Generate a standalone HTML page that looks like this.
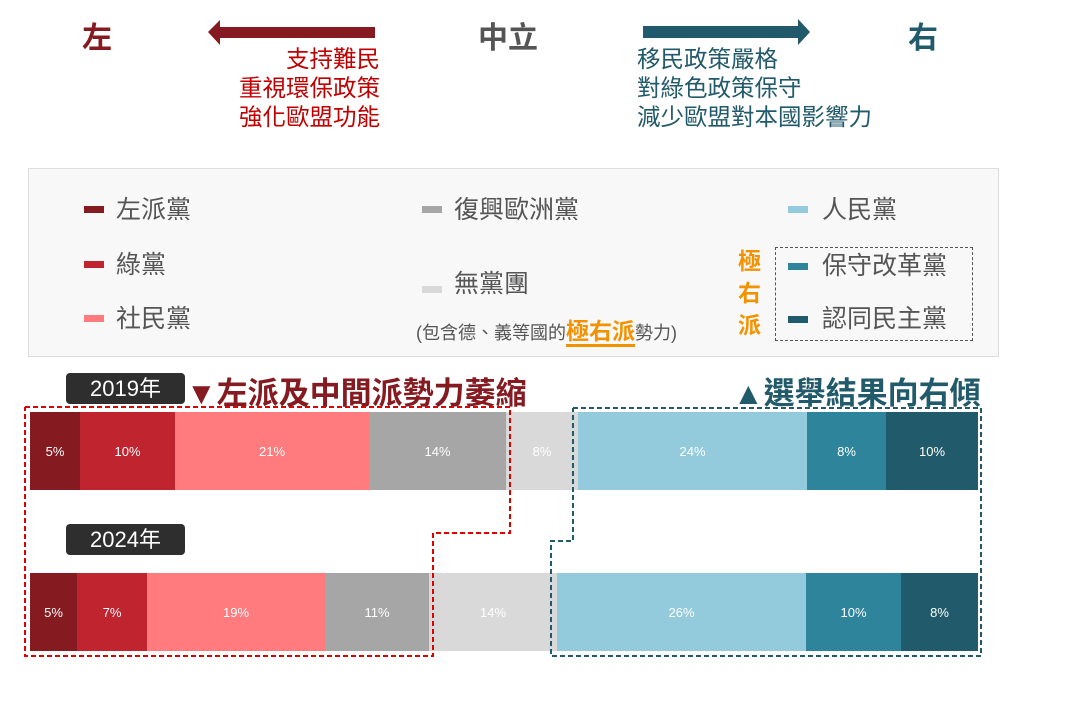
<!DOCTYPE html>
<html><head><meta charset="utf-8"><style>
body{margin:0;width:1077px;height:718px;background:#fff;position:relative;overflow:hidden;font-family:"Liberation Sans","Noto Sans CJK TC",sans-serif}
.a{position:absolute;white-space:nowrap}
.seg{position:absolute;color:#fff;font-size:13px;display:flex;align-items:center;justify-content:center}
.sq{position:absolute;width:20px;height:7px}
.lg{position:absolute;font-size:25px;color:#555;line-height:28px}
</style></head><body>
<div class="a" style="left:82px;top:13px;font-size:30px;color:#851a21;font-weight:bold">左</div>
<div class="a" style="left:478px;top:13px;font-size:30px;color:#555;font-weight:bold">中立</div>
<div class="a" style="left:908px;top:13px;font-size:30px;color:#215a6a;font-weight:bold">右</div>
<svg class="a" style="left:0;top:0" width="1077" height="60">
<polygon points="208,32 220,20 220,27 375,27 375,38 220,38 220,45" fill="#851a21"/>
<polygon points="643,26 798,26 798,19 810,32 798,45 798,38 643,38" fill="#215a6a"/>
</svg>
<div class="a" style="left:180px;top:45px;width:200px;text-align:right;font-size:23.5px;line-height:29px;color:#c00000">支持難民<br>重視環保政策<br>強化歐盟功能</div>
<div class="a" style="left:637px;top:45px;font-size:23.5px;line-height:29px;color:#215a6a">移民政策嚴格<br>對綠色政策保守<br>減少歐盟對本國影響力</div>

<div class="a" style="left:28px;top:168px;width:969px;height:187px;background:#f8f8f8;border:1px solid #ddd"></div>
<div class="sq" style="left:84px;top:206px;background:#851a21"></div><div class="lg" style="left:116px;top:196px">左派黨</div>
<div class="sq" style="left:84px;top:261px;background:#c0242f"></div><div class="lg" style="left:116px;top:251px">綠黨</div>
<div class="sq" style="left:84px;top:315px;background:#ff7b7e"></div><div class="lg" style="left:116px;top:305px">社民黨</div>
<div class="sq" style="left:422px;top:206px;background:#a6a6a6"></div><div class="lg" style="left:454px;top:196px">復興歐洲黨</div>
<div class="sq" style="left:422px;top:286px;background:#d9d9d9"></div><div class="lg" style="left:454px;top:270px">無黨團</div>
<div class="a" style="left:416px;top:312px;font-size:18px;color:#555">(包含德、義等國的<span style="color:#f39200;font-size:23px;font-weight:bold;border-bottom:3px solid #f39200">極右派</span>勢力)</div>
<div class="a" style="left:738px;top:245px;font-size:23px;line-height:32px;color:#f39200;font-weight:bold">極<br>右<br>派</div>
<div class="a" style="left:775px;top:247px;width:196px;height:92px;border:1px dashed #555"></div>
<div class="sq" style="left:788px;top:206px;background:#94cbdc"></div><div class="lg" style="left:822px;top:196px">人民黨</div>
<div class="sq" style="left:788px;top:263px;background:#2e849b"></div><div class="lg" style="left:822px;top:252px">保守改革黨</div>
<div class="sq" style="left:788px;top:316px;background:#215a6a"></div><div class="lg" style="left:822px;top:305px">認同民主黨</div>

<div class="a" style="left:66px;top:373px;width:119px;height:31px;background:#2e2e2e;border-radius:4px;color:#fff;font-size:22px;line-height:31px;text-align:center">2019年</div>
<div class="a" style="left:186px;top:368px;font-size:31px;color:#851a21;font-weight:bold">▼左派及中間派勢力萎縮</div>
<div class="a" style="left:733px;top:368px;font-size:31px;color:#215a6a;font-weight:bold">▲選舉結果向右傾</div>
<div class="a" style="left:66px;top:524px;width:119px;height:31px;background:#2e2e2e;border-radius:4px;color:#fff;font-size:22px;line-height:31px;text-align:center">2024年</div>

<div class="seg" style="left:30px;top:412px;width:50px;height:78px;background:#851a21">5%</div>
<div class="seg" style="left:80px;top:412px;width:95px;height:78px;background:#c0242f">10%</div>
<div class="seg" style="left:175px;top:412px;width:194px;height:78px;background:#ff7b7e">21%</div>
<div class="seg" style="left:369px;top:412px;width:137px;height:78px;background:#a6a6a6">14%</div>
<div class="seg" style="left:506px;top:412px;width:72px;height:78px;background:#d9d9d9">8%</div>
<div class="seg" style="left:578px;top:412px;width:229px;height:78px;background:#94cbdc">24%</div>
<div class="seg" style="left:807px;top:412px;width:79px;height:78px;background:#2e849b">8%</div>
<div class="seg" style="left:886px;top:412px;width:92px;height:78px;background:#215a6a">10%</div>

<div class="seg" style="left:30px;top:573px;width:47px;height:78px;background:#851a21">5%</div>
<div class="seg" style="left:77px;top:573px;width:70px;height:78px;background:#c0242f">7%</div>
<div class="seg" style="left:147px;top:573px;width:178px;height:78px;background:#ff7b7e">19%</div>
<div class="seg" style="left:325px;top:573px;width:104px;height:78px;background:#a6a6a6">11%</div>
<div class="seg" style="left:429px;top:573px;width:128px;height:78px;background:#d9d9d9">14%</div>
<div class="seg" style="left:557px;top:573px;width:249px;height:78px;background:#94cbdc">26%</div>
<div class="seg" style="left:806px;top:573px;width:95px;height:78px;background:#2e849b">10%</div>
<div class="seg" style="left:901px;top:573px;width:77px;height:78px;background:#215a6a">8%</div>

<svg class="a" style="left:0;top:0" width="1077" height="718">
<polyline points="25,407 510,407 510,533 433,533 433,656 25,656 25,407" fill="none" stroke="#e00000" stroke-width="2" stroke-dasharray="5,3"/>
<polyline points="573,408 981,408 981,656 551,656 551,541 573,541 573,408" fill="none" stroke="#215a6a" stroke-width="2" stroke-dasharray="5,3"/>
</svg>
</body></html>
